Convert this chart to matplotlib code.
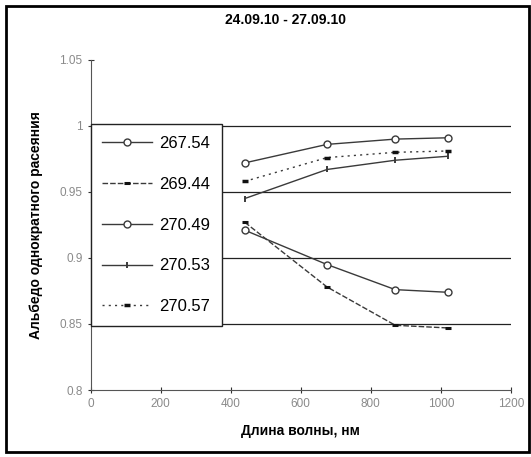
import matplotlib
matplotlib.use("Agg")
import matplotlib.pyplot as plt
from matplotlib.patches import Rectangle

wavelength = [440, 675, 870, 1020]
labels = ["267.54", "269.44", "270.49", "270.53", "270.57"]
s267_54 = [0.972, 0.986, 0.990, 0.991]
s269_44 = [0.927, 0.878, 0.849, 0.847]
s270_49 = [0.921, 0.895, 0.876, 0.874]
s270_53 = [0.945, 0.967, 0.974, 0.977]
s270_57 = [0.958, 0.976, 0.980, 0.981]
xticks = [0, 200, 400, 600, 800, 1000, 1200]
yticks = [0.8, 0.85, 0.9, 0.95, 1.0, 1.05]
ytick_labels = ["0.8", "0.85", "0.9", "0.95", "1", "1.05"]

plt.rcParams['font.family'] = ['Liberation Sans', 'DejaVu Sans']

fig = plt.figure(figsize=(5.31, 4.57), dpi=100)
ax = fig.add_axes([0.171, 0.1466, 0.791, 0.7224])

c = "#3a3a3a"
ax.plot(wavelength, s267_54, color=c, lw=1.0, ls='-', marker='o', ms=5,
        mfc='white', mec=c, mew=1.0, label=labels[0])
ax.plot(wavelength, s269_44, color=c, lw=1.0, ls=(0, (4, 1.5)), marker='_', ms=5,
        mew=2.2, mec='#111111', label=labels[1])
ax.plot(wavelength, s270_49, color=c, lw=1.0, ls='-', marker='o', ms=5,
        mfc='white', mec=c, mew=1.0, label=labels[2])
ax.plot(wavelength, s270_53, color=c, lw=1.0, ls='-', marker='|', ms=5,
        mew=1.4, label=labels[3])
ax.plot(wavelength, s270_57, color=c, lw=1.0, ls=(0, (1.5, 3)), marker='_', ms=5,
        mew=2.5, mec='#111111', label=labels[4])

ax.set_xlim(0, 1200)
ax.set_ylim(0.8, 1.05)
ax.set_xticks(xticks)
ax.set_xticklabels([str(t) for t in xticks])
ax.set_yticks(yticks)
ax.set_yticklabels(ytick_labels)
for y in [0.85, 0.9, 0.95, 1.0]:
    ax.axhline(y, color='#222222', lw=0.9, zorder=0)
ax.tick_params(axis='both', colors='#333333', labelcolor='#8a8a8a',
               labelsize=8.5, direction='inout', length=5, width=0.8)
ax.spines['top'].set_visible(False)
ax.spines['right'].set_visible(False)
ax.spines['left'].set_color('#555555')
ax.spines['bottom'].set_color('#555555')

leg = ax.legend(loc='upper left', bbox_to_anchor=(0.0, 0.805), frameon=True,
                fancybox=False, edgecolor='#222222', framealpha=1,
                fontsize=12, labelspacing=1.55, handlelength=3.0,
                handletextpad=0.4, borderpad=0.7, borderaxespad=0)
leg.get_frame().set_linewidth(1.0)

ax.set_xlabel("Длина волны, нм", fontsize=10, fontweight='bold', labelpad=10)
ax.set_ylabel("Альбедо однократного расеяния", fontsize=10, fontweight='bold',
              labelpad=12)
fig.text(0.537, 0.957, "24.09.10 - 27.09.10", ha='center', va='center',
         fontsize=10, fontweight='bold')

fig.patches.append(Rectangle((0.012, 0.012), 0.985, 0.975, transform=fig.transFigure,
                             fill=False, edgecolor='black', lw=2))

fig.savefig("out.png", dpi=100)
